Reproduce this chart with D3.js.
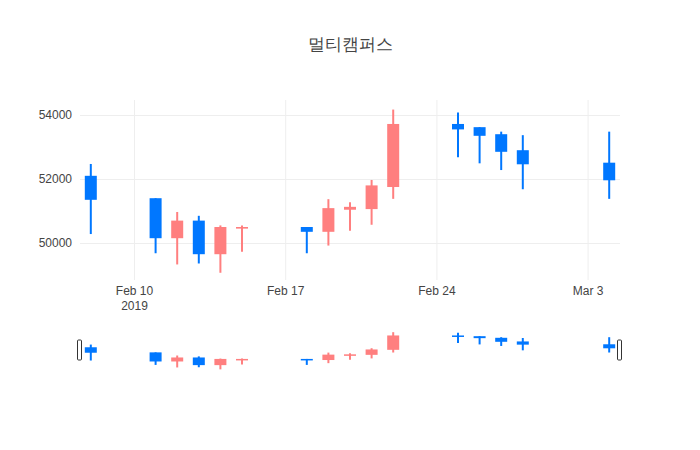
<!DOCTYPE html><html><head><meta charset="utf-8"><script src="https://cdn.jsdelivr.net/npm/d3@7"></script>
<style>body{margin:0;background:#fff}svg{font-family:"Open Sans",sans-serif}</style></head><body><svg id="c" width="700" height="450"></svg><script>
const dates=["2019-02-08","2019-02-11","2019-02-12","2019-02-13","2019-02-14","2019-02-15","2019-02-18","2019-02-19","2019-02-20","2019-02-21","2019-02-22","2019-02-25","2019-02-26","2019-02-27","2019-02-28","2019-03-04"];
const open=[52100,51400,50150,50700,49650,50450,50500,50350,51040,51060,51750,53720,53620,53400,52900,52510];
const high=[52470,51400,50970,50850,50550,50550,50500,51370,51270,51970,54170,54080,53620,53480,53370,53480];
const low=[50280,49680,49330,49360,49070,49730,49680,49920,50380,50570,51380,52680,52490,52280,51680,51380];
const close=[51350,50150,50700,49650,50500,50500,50350,51090,51130,51800,53720,53550,53350,52850,52460,51960];
const yTicks=[50000,52000,54000];
const xTicks=["2019-02-10","2019-02-17","2019-02-24","2019-03-03"];
const xTickLabels=[["Feb 10","2019"],["Feb 17"],["Feb 24"],["Mar 3"]];
const title="멀티캠퍼스";
const up="#ff7f7f",down="#0077ff";
const P=d=>new Date(d+"T00:00:00");
const svg=d3.select("#c");
const x=d3.scaleTime().domain([new Date(2019,1,7,12),new Date(2019,2,4,12)]).range([80,620]);
const y=d3.scaleLinear().domain([48844,54469]).range([280,100]);
const ys=d3.scaleLinear().domain([48844,54469]).range([371,330]);
svg.append("text").attr("x",350).attr("y",50).attr("text-anchor","middle").attr("font-size",17).attr("fill","#444").text(title);
const gy=svg.append("g").attr("transform","translate(80,0)").call(d3.axisLeft(y).tickValues(yTicks).tickSize(-540).tickPadding(8).tickFormat(d3.format("d")));
gy.select(".domain").remove();gy.selectAll("line").attr("stroke","#eee");gy.selectAll("text").attr("font-size",12).attr("fill","#444");
const gx=svg.append("g").attr("transform","translate(0,280)").call(d3.axisBottom(x).tickValues(xTicks.map(P)).tickSize(-180).tickFormat(""));
gx.select(".domain").remove();gx.selectAll("line").attr("stroke","#eee");
gx.selectAll(".tick").each(function(d,i){const t=d3.select(this).append("text").attr("fill","#444").attr("font-size",12).attr("text-anchor","middle");
xTickLabels[i].forEach((s,j)=>t.append("tspan").attr("x",0).attr("y",15+j*15).text(s));});
function draw(g,ys,w,sw){
 dates.forEach((d,i)=>{const c=close[i]>=open[i]?up:down,cx=x(P(d));
  g.append("line").attr("x1",cx).attr("x2",cx).attr("y1",ys(high[i])).attr("y2",ys(low[i])).attr("stroke",c).attr("stroke-width",sw);
  const t=ys(Math.max(open[i],close[i])),b=ys(Math.min(open[i],close[i]));
  g.append("rect").attr("x",cx-w/2).attr("y",t).attr("width",w).attr("height",Math.max(b-t,1.5)).attr("fill",c);});
}
draw(svg.append("g"),y,12,2);
draw(svg.append("g"),ys,12,2);
[80,620].forEach(px=>svg.append("rect").attr("x",px-2.5).attr("y",340).attr("width",4).attr("height",20).attr("rx",1).attr("fill","#fff").attr("stroke","#333"));
</script></body></html>
